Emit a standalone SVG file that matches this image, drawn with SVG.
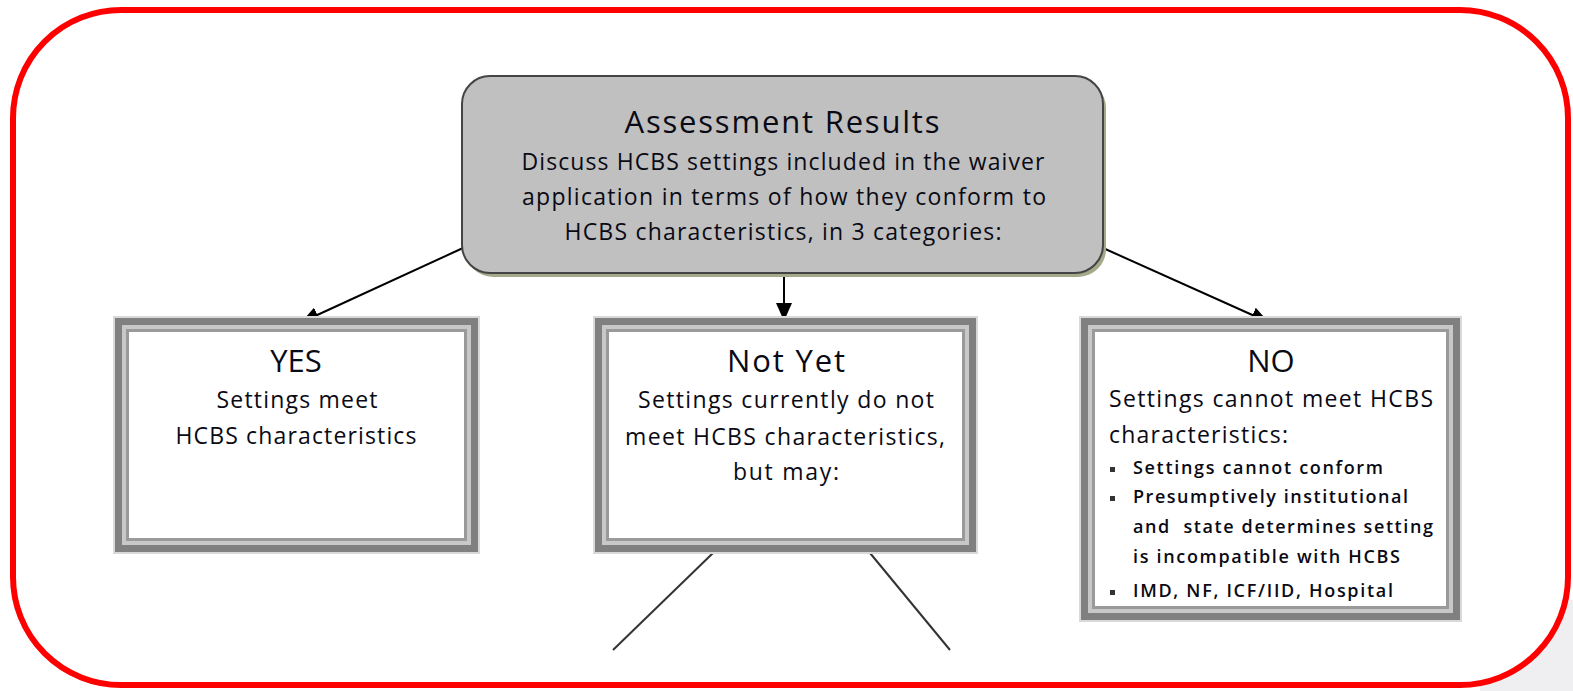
<svg xmlns="http://www.w3.org/2000/svg" width="1573" height="691" viewBox="0 0 1573 691">
<style>
text{font-family:"Open Sans","Liberation Sans",sans-serif;fill:#0a0a14}
.t{font-size:23px;font-weight:500}
.h{font-size:31px;font-weight:500}
.ti{font-size:31px;font-weight:500}
.b{font-size:18px;font-weight:600}
.c{text-anchor:middle}
.conn{stroke:#000;stroke-width:2;fill:none}
.leg{stroke:#333;stroke-width:2;fill:none}
</style>
<defs>
<marker id="ah" markerWidth="18" markerHeight="16" refX="17" refY="8" orient="auto" markerUnits="userSpaceOnUse">
<path d="M0,0 L18,8 L0,16 Z" fill="#000"/>
</marker>
</defs>
<rect x="0" y="0" width="1573" height="691" fill="#fff"/>
<rect x="1480" y="600" width="93" height="91" fill="#efeff2"/>
<rect x="13" y="10" width="1555" height="675" rx="108" ry="108" fill="#fff" stroke="#ff0000" stroke-width="6"/>

<g id="connectors">
<line class="conn" x1="463" y1="248" x2="302" y2="322" marker-end="url(#ah)"/>
<line class="conn" x1="784" y1="274" x2="784" y2="320" marker-end="url(#ah)"/>
<line class="conn" x1="1103" y1="248" x2="1268" y2="322" marker-end="url(#ah)"/>
<line class="leg" x1="713" y1="553" x2="613" y2="650"/>
<line class="leg" x1="870" y1="553" x2="950" y2="650"/>
</g>

<g id="assessment">
<rect x="465" y="80" width="641" height="197" rx="28" fill="#a3aa8a"/>
<rect x="462" y="76" width="641" height="197" rx="28" fill="#c0c0c0" stroke="#444" stroke-width="2"/>
<text class="ti c" x="782" y="133" textLength="315" lengthAdjust="spacing">Assessment Results</text>
<text class="t c" x="783" y="170" textLength="523" lengthAdjust="spacing">Discuss HCBS settings included in the waiver</text>
<text class="t c" x="784" y="205" textLength="524" lengthAdjust="spacing">application in terms of how they conform to</text>
<text class="t c" x="783" y="240" textLength="437" lengthAdjust="spacing">HCBS characteristics, in 3 categories:</text>
</g>

<g id="yes">
<rect x="113" y="316" width="367" height="238" fill="#d9d9d9"/>
<rect x="115" y="318" width="363" height="234" fill="#808080"/>
<rect x="122" y="325" width="349" height="220" fill="#c8c8c8"/>
<rect x="126" y="329" width="341" height="212" fill="#9a9a9a"/>
<rect x="129" y="332" width="335" height="206" fill="#fff"/>
<text class="h c" x="296" y="372">YES</text>
<text class="t c" x="297" y="408" textLength="161" lengthAdjust="spacing">Settings meet</text>
<text class="t c" x="296" y="444" textLength="241" lengthAdjust="spacing">HCBS characteristics</text>
</g>

<g id="notyet">
<rect x="593" y="316" width="385" height="238" fill="#d9d9d9"/>
<rect x="595" y="318" width="381" height="234" fill="#808080"/>
<rect x="602" y="325" width="367" height="220" fill="#c8c8c8"/>
<rect x="606" y="329" width="359" height="212" fill="#9a9a9a"/>
<rect x="609" y="332" width="353" height="206" fill="#fff"/>
<text class="h c" x="786" y="372" textLength="118" lengthAdjust="spacing">Not Yet</text>
<text class="t c" x="786" y="408" textLength="296" lengthAdjust="spacing">Settings currently do not</text>
<text class="t c" x="785" y="445" textLength="320" lengthAdjust="spacing">meet HCBS characteristics,</text>
<text class="t c" x="786" y="480" textLength="106" lengthAdjust="spacing">but may:</text>
</g>

<g id="no">
<rect x="1079" y="316" width="383" height="306" fill="#d9d9d9"/>
<rect x="1081" y="318" width="379" height="302" fill="#808080"/>
<rect x="1088" y="325" width="365" height="288" fill="#c8c8c8"/>
<rect x="1092" y="329" width="357" height="280" fill="#9a9a9a"/>
<rect x="1095" y="332" width="351" height="274" fill="#fff"/>
<text class="h c" x="1271" y="372">NO</text>
<text class="t" x="1109" y="407" textLength="324" lengthAdjust="spacing">Settings cannot meet HCBS</text>
<text class="t" x="1109" y="443" textLength="179" lengthAdjust="spacing">characteristics:</text>
<rect x="1110" y="467" width="5" height="5" fill="#333"/>
<rect x="1110" y="496" width="5" height="5" fill="#333"/>
<rect x="1110" y="590" width="5" height="5" fill="#333"/>
<text class="b" x="1133" y="474" textLength="250" lengthAdjust="spacing">Settings cannot conform</text>
<text class="b" x="1133" y="503" textLength="275" lengthAdjust="spacing">Presumptively institutional</text>
<text class="b" x="1133" y="533" textLength="300" lengthAdjust="spacing" xml:space="preserve">and  state determines setting</text>
<text class="b" x="1133" y="563" textLength="267" lengthAdjust="spacing">is incompatible with HCBS</text>
<text class="b" x="1133" y="597" textLength="260" lengthAdjust="spacing">IMD, NF, ICF/IID, Hospital</text>
</g>
</svg>
